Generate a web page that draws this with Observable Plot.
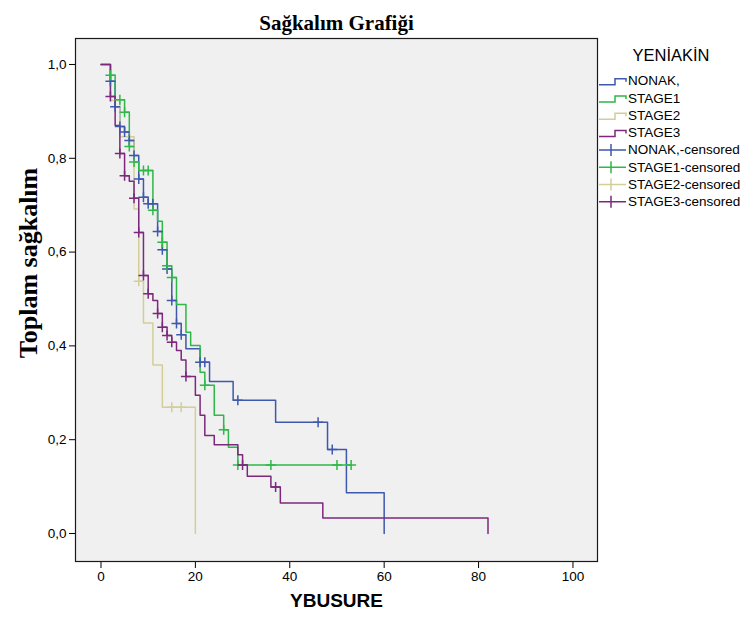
<!DOCTYPE html>
<html>
<head>
<meta charset="utf-8">
<script src="https://cdn.jsdelivr.net/npm/d3@7"></script>
<script src="https://cdn.jsdelivr.net/npm/@observablehq/plot@0.6"></script>
<style>
  html, body { margin: 0; padding: 0; background: #ffffff; }
  #chart { position: relative; width: 747px; height: 623px; }
</style>
</head>
<body>
<div id="chart"></div>
<script>
// ---------- data ----------
const chartTitle = "Sağkalım Grafiği";
const xTitle = "YBUSURE";
const yTitle = "Toplam sağkalım";
const legendTitle = "YENİAKİN";
const series = ["NONAK,", "STAGE1", "STAGE2", "STAGE3"];
const colors = ["#3E58AC", "#2EB848", "#D3CE97", "#7C287D"];
const xTicks = [0, 20, 40, 60, 80, 100];
const yTicks = [0, 0.2, 0.4, 0.6, 0.8, 1.0];

// NONAK,
const nonakTime = [0, 2, 3, 4, 5, 6, 7, 8, 9, 10, 12, 13, 14, 15, 16, 17, 18, 21, 23, 28, 37, 48, 52, 60];
const nonakSurv = [1, 0.964, 0.91, 0.868, 0.856, 0.838, 0.806, 0.756, 0.717, 0.703, 0.644, 0.605, 0.564, 0.497, 0.448, 0.424, 0.394, 0.365, 0.324, 0.284, 0.237, 0.179, 0.087, 0];
const nonakCensored = [2, 3, 4, 5, 6, 7, 8, 9, 10, 11, 12, 13, 14, 15, 16, 17, 21, 22, 29, 46, 49];

// STAGE1
const stage1Time = [0, 2, 3, 5, 6, 7, 8, 11, 12, 13, 14, 15, 16, 18, 19, 21, 22, 24, 26, 27, 29];
const stage1Surv = [1, 0.977, 0.925, 0.898, 0.825, 0.792, 0.774, 0.689, 0.666, 0.621, 0.571, 0.546, 0.488, 0.429, 0.401, 0.344, 0.316, 0.252, 0.221, 0.184, 0.146];
const stage1Censored = [2, 4, 5, 6, 7, 9, 10, 11, 13, 14, 15, 22, 26, 29, 36, 50, 53];

// STAGE2
const stage2Time = [0, 2, 4, 7, 8, 9, 11, 13, 20];
const stage2Surv = [1, 0.923, 0.846, 0.692, 0.538, 0.449, 0.359, 0.269, 0];
const stage2Censored = [8, 15, 17];

// STAGE3
const stage3Time = [0, 2, 3, 4, 5, 6, 7, 8, 9, 10, 11, 12, 13, 14, 15, 16, 17, 18, 20, 21, 22, 24, 29, 30, 31, 36, 38, 47, 82];
const stage3Surv = [1, 0.932, 0.87, 0.81, 0.763, 0.751, 0.715, 0.642, 0.55, 0.511, 0.497, 0.469, 0.44, 0.422, 0.408, 0.39, 0.37, 0.335, 0.295, 0.252, 0.209, 0.189, 0.168, 0.146, 0.122, 0.099, 0.065, 0.033, 0];
const stage3Censored = [2, 4, 5, 7, 8, 9, 10, 12, 13, 14, 15, 18, 30, 37];

// ---------- build tables ----------
const groups = [
  [nonakTime, nonakSurv, nonakCensored],
  [stage1Time, stage1Surv, stage1Censored],
  [stage2Time, stage2Surv, stage2Censored],
  [stage3Time, stage3Surv, stage3Censored]
];
const lineRows = [];
const censorRows = [];
groups.forEach(([times, surv, cens], gi) => {
  const name = series[gi];
  times.forEach((t, i) => lineRows.push({series: name, t, s: surv[i]}));
  const lastCens = d3.max(cens);
  if (lastCens > times[times.length - 1]) {
    lineRows.push({series: name, t: lastCens, s: surv[surv.length - 1]});
  }
  cens.forEach(c => {
    let idx = 0;
    times.forEach((t, i) => { if (t <= c) idx = i; });
    censorRows.push({series: name, t: c, s: surv[idx]});
  });
});

const plusSymbol = {
  draw(context, size) {
    const r = Math.sqrt(size / Math.PI);
    context.moveTo(-r, 0); context.lineTo(r, 0);
    context.moveTo(0, -r); context.lineTo(0, r);
  }
};

const sans = "'Liberation Sans', Arial, sans-serif";
const serif = "'Liberation Serif', 'Times New Roman', serif";

const chart = Plot.plot({
  width: 747,
  height: 623,
  marginLeft: 75,
  marginRight: 150,
  marginTop: 38,
  marginBottom: 62,
  style: {fontFamily: sans, fontSize: "13.5px", color: "#000", background: "#ffffff", overflow: "visible"},
  x: {domain: [-5.4, 105.2], ticks: xTicks, tickSize: 7, tickPadding: 3, label: null, tickFormat: d => String(d)},
  y: {domain: [-0.0597, 1.0554], ticks: yTicks, tickSize: 6, tickPadding: 3, label: null,
      tickFormat: d => d.toFixed(1).replace(".", ",")},
  color: {domain: series, range: colors},
  marks: [
    Plot.frame({fill: "#F0F0F0", stroke: "none"}),
    Plot.line(lineRows, {x: "t", y: "s", z: "series", stroke: "series", curve: "step-after", strokeWidth: 1.5}),
    Plot.dot(censorRows, {x: "t", y: "s", stroke: "series", fill: "none", symbol: plusSymbol, r: 5, strokeWidth: 1.5}),
    Plot.frame({stroke: "#1a1a1a", strokeWidth: 1.2}),
    Plot.text([chartTitle], {frameAnchor: "top", dy: -23, fontFamily: serif, fontWeight: "bold", fontSize: 21, fill: "#000"}),
    Plot.text([yTitle], {frameAnchor: "left", textAnchor: "middle", dx: -47, dy: -37, rotate: -90, fontFamily: serif, fontWeight: "bold", fontSize: 26, fill: "#000"}),
    Plot.text([xTitle], {frameAnchor: "bottom", dy: 45, fontFamily: sans, fontWeight: "bold", fontSize: 19, fill: "#000"})
  ]
});
document.getElementById("chart").appendChild(chart);

// ---------- legend ----------
const svg = d3.select(chart);
const lg = svg.append("g").attr("font-family", sans).attr("fill", "#000").attr("text-anchor", "start");
lg.append("text").attr("x", 671).attr("y", 55).attr("text-anchor", "middle")
  .attr("dominant-baseline", "central").attr("font-size", 16.5).text(legendTitle);
const rowY = i => 80.7 + i * 17.3;
series.forEach((name, i) => {
  const y = rowY(i);
  lg.append("path")
    .attr("d", `M599,${y + 4}H615V${y - 2}H626V${y + 1}`)
    .attr("fill", "none").attr("stroke", colors[i]).attr("stroke-width", 1.5);
  lg.append("text").attr("x", 628).attr("y", y).attr("text-anchor", "start").attr("dominant-baseline", "central")
    .attr("font-size", 13.5).text(name);
});
series.forEach((name, i) => {
  const y = rowY(i + 4);
  lg.append("path")
    .attr("d", `M599,${y}H626M611,${y - 6}V${y + 6}`)
    .attr("fill", "none").attr("stroke", colors[i]).attr("stroke-width", 1.5);
  lg.append("text").attr("x", 628).attr("y", y).attr("text-anchor", "start").attr("dominant-baseline", "central")
    .attr("font-size", 13.5).text(name + "-censored");
});
</script>
</body>
</html>
